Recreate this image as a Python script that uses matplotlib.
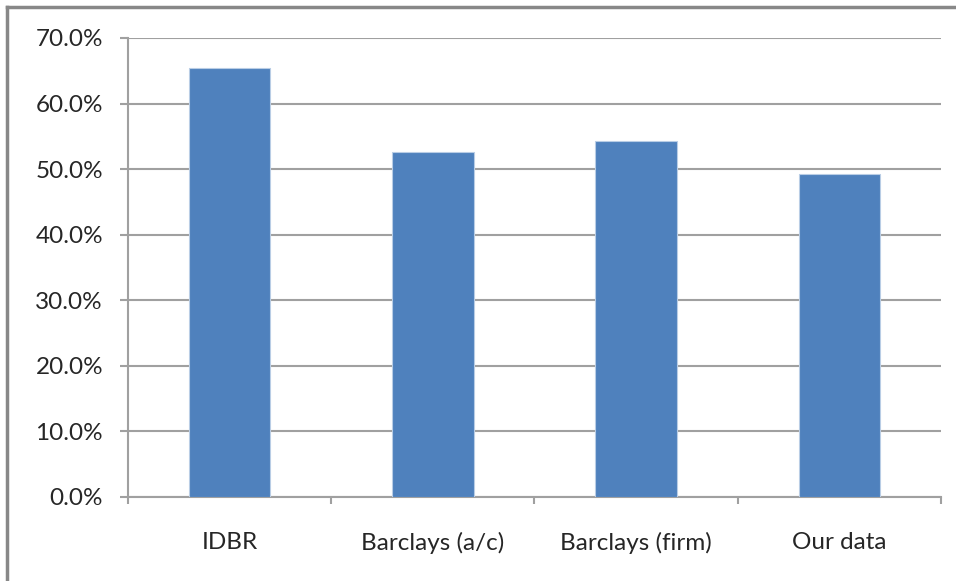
import matplotlib.pyplot as plt
from matplotlib.ticker import PercentFormatter, FixedLocator
from matplotlib.lines import Line2D

# Values (percent)
categories = ['IDBR', 'Barclays (a/c)', 'Barclays (firm)', 'Our data']
shares = [65.4, 52.6, 54.3, 49.3]
y_ticks = [0, 10, 20, 30, 40, 50, 60, 70]

plt.rcParams['font.family'] = ['Lato', 'DejaVu Sans']

fig = plt.figure(figsize=(9.56, 5.81), dpi=100)
ax = fig.add_axes([0.1339, 0.1446, 0.8504, 0.790])

x = range(len(categories))
ax.bar(x, shares, width=0.40, color='#4F81BD', edgecolor='#B9CDE5',
       linewidth=0.8, zorder=3)

ax.set_xlim(-0.5, len(categories) - 0.5)
ax.set_ylim(0, 70)
ax.set_yticks(y_ticks)
ax.yaxis.set_major_formatter(PercentFormatter(decimals=1))
ax.grid(axis='y', color='#A0A0A0', linewidth=1.5, zorder=0)

# category labels centred, tick marks at category boundaries
ax.set_xticks(list(x))
ax.set_xticklabels(categories)
ax.tick_params(axis='x', length=0, pad=25, labelsize=17.5, labelcolor='#262626')
ax.xaxis.set_minor_locator(FixedLocator([i - 0.5 for i in range(len(categories) + 1)]))
ax.tick_params(axis='x', which='minor', length=5, width=1.5, color='#A0A0A0')
ax.tick_params(axis='y', length=6, width=1.5, color='#A0A0A0', pad=12,
               labelsize=17.5, labelcolor='#262626')

for side in ['top', 'right']:
    ax.spines[side].set_visible(False)
for side in ['left', 'bottom']:
    ax.spines[side].set_color('#A0A0A0')
    ax.spines[side].set_linewidth(1.5)

# outer chart frame (top and left edges visible)
fig.add_artist(Line2D([0.007, 1.0], [0.9880, 0.9880], transform=fig.transFigure,
                      color='#888888', linewidth=2.5))
fig.add_artist(Line2D([0.007, 0.007], [0.0, 0.9880], transform=fig.transFigure,
                      color='#888888', linewidth=2.5))

fig.savefig('out.png', dpi=100, facecolor='white')
